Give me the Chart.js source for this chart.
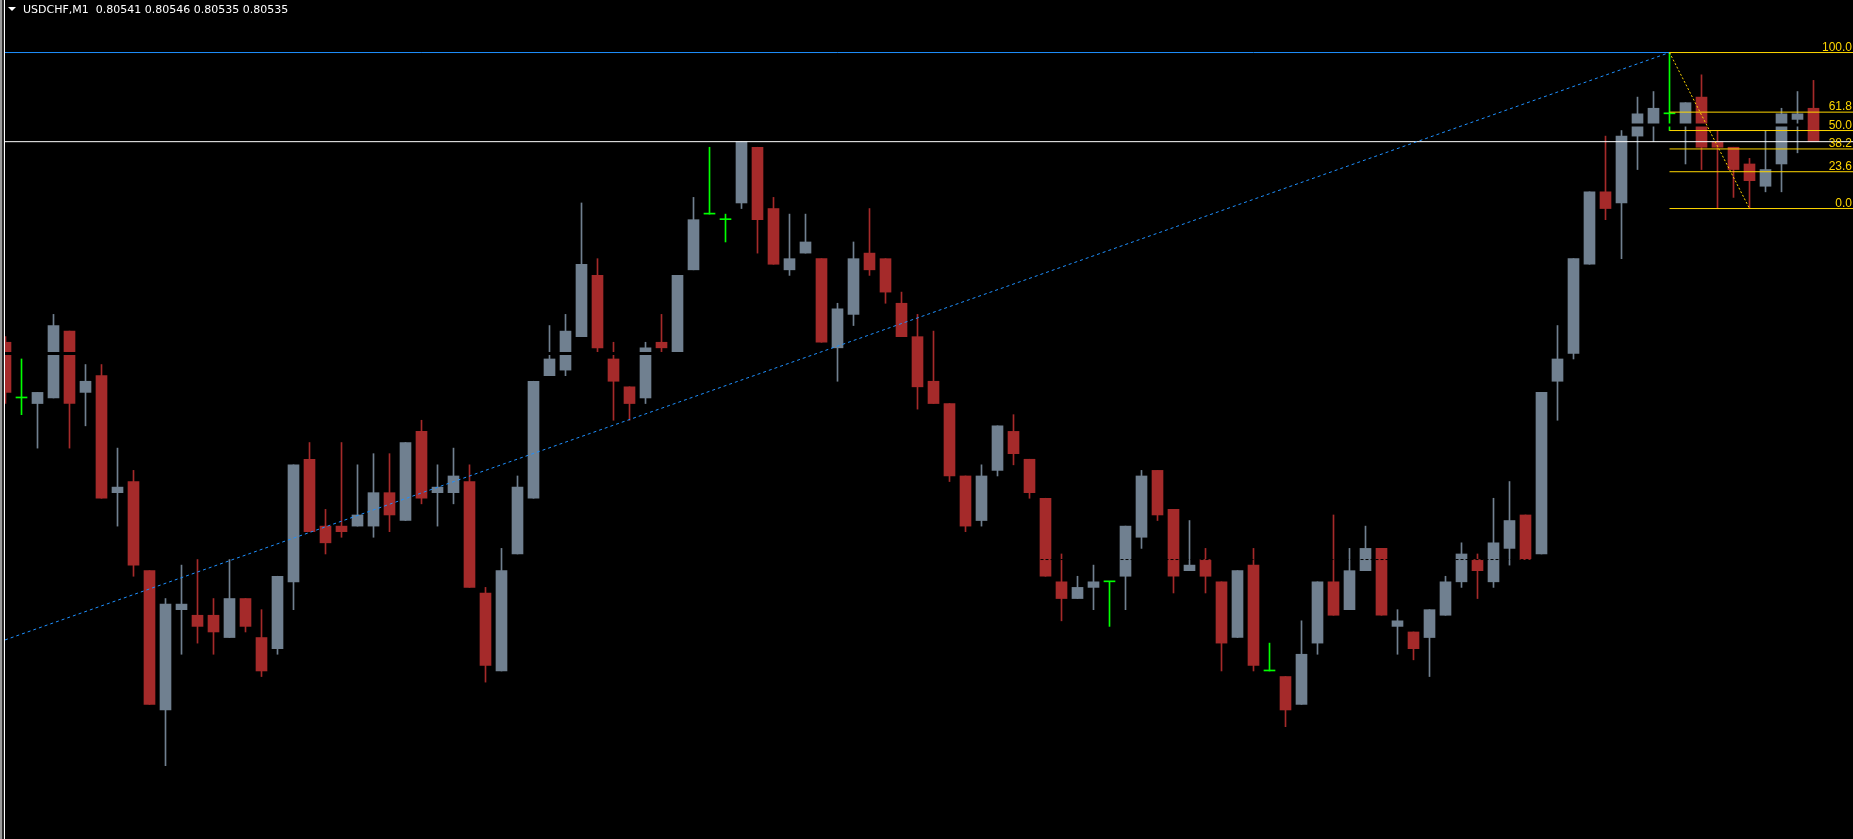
<!DOCTYPE html>
<html>
<head>
<meta charset="utf-8">
<title>USDCHF,M1</title>
<script src="https://cdn.jsdelivr.net/npm/chart.js@4.4.1/dist/chart.umd.min.js"></script>
<style>
  html, body { margin: 0; padding: 0; background: #000; overflow: hidden; }
  #wrap { position: relative; width: 1853px; height: 839px; }
  #priceChart { position: absolute; left: 0; top: 0; }
  #header {
    position: absolute; left: 8px; top: 3px;
    color: #fff; font: 11px "DejaVu Sans", sans-serif; white-space: pre;
  }
  #header .tri {
    display: inline-block; width: 0; height: 0; margin-right: 7px; vertical-align: 2px;
    border-left: 4px solid transparent; border-right: 4px solid transparent; border-top: 4px solid #fff;
  }
</style>
</head>
<body>
<div id="wrap">
  <canvas id="priceChart" width="1853" height="839"></canvas>
  <div id="header"><span class="tri"></span>USDCHF,M1  0.80541 0.80546 0.80535 0.80535</div>
</div>

<script>
/* ================= DATA (USDCHF M1) ================= */

const opens = [
  0.80499,0.80489,0.80488,0.80489,0.80501,0.80490,0.80493,0.80472,0.80474,0.80458,
  0.80433,0.80451,0.80450,0.80450,0.80446,0.80453,0.80446,0.80444,0.80456,0.80478,
  0.80466,0.80466,0.80466,0.80466,0.80472,0.80467,0.80483,0.80472,0.80472,0.80474,
  0.80454,0.80440,0.80461,0.80471,0.80493,0.80494,0.80500,0.80511,0.80496,0.80491,
  0.80489,0.80499,0.80497,0.80512,0.80522,0.80521,0.80524,0.80534,0.80523,0.80512,
  0.80515,0.80514,0.80498,0.80504,0.80515,0.80514,0.80506,0.80500,0.80492,0.80488,
  0.80475,0.80467,0.80476,0.80483,0.80478,0.80471,0.80456,0.80453,0.80455,0.80456,
  0.80457,0.80464,0.80476,0.80469,0.80458,0.80460,0.80456,0.80446,0.80459,0.80440,
  0.80439,0.80434,0.80445,0.80456,0.80451,0.80458,0.80462,0.80448,0.80447,0.80446,
  0.80450,0.80456,0.80460,0.80456,0.80462,0.80468,0.80461,0.80492,0.80497,0.80513,
  0.80526,0.80524,0.80536,0.80538,0.80540,0.80538,0.80543,0.80535,0.80534,0.80531,
  0.80527,0.80531,0.80539,0.80541
];

const highs = [
  0.80500,0.80496,0.80490,0.80504,0.80501,0.80495,0.80495,0.80480,0.80476,0.80458,
  0.80453,0.80459,0.80460,0.80453,0.80460,0.80453,0.80451,0.80457,0.80477,0.80481,
  0.80469,0.80481,0.80477,0.80479,0.80479,0.80481,0.80485,0.80477,0.80480,0.80477,
  0.80455,0.80462,0.80475,0.80492,0.80502,0.80504,0.80524,0.80514,0.80499,0.80491,
  0.80499,0.80504,0.80511,0.80525,0.80534,0.80522,0.80535,0.80534,0.80525,0.80522,
  0.80522,0.80514,0.80506,0.80517,0.80523,0.80514,0.80508,0.80504,0.80501,0.80488,
  0.80475,0.80477,0.80484,0.80486,0.80478,0.80471,0.80461,0.80457,0.80459,0.80456,
  0.80466,0.80476,0.80476,0.80469,0.80467,0.80462,0.80456,0.80458,0.80462,0.80445,
  0.80439,0.80449,0.80456,0.80468,0.80462,0.80466,0.80462,0.80451,0.80447,0.80451,
  0.80457,0.80463,0.80461,0.80471,0.80474,0.80468,0.80490,0.80502,0.80514,0.80526,
  0.80536,0.80537,0.80543,0.80544,0.80551,0.80542,0.80547,0.80537,0.80534,0.80532,
  0.80537,0.80541,0.80544,0.80546
];

const lows = [
  0.80488,0.80486,0.80480,0.80489,0.80480,0.80484,0.80471,0.80466,0.80457,0.80434,
  0.80423,0.80443,0.80445,0.80443,0.80446,0.80447,0.80439,0.80443,0.80451,0.80465,
  0.80461,0.80464,0.80466,0.80464,0.80465,0.80467,0.80470,0.80466,0.80470,0.80455,
  0.80438,0.80440,0.80461,0.80471,0.80493,0.80493,0.80500,0.80497,0.80485,0.80485,
  0.80488,0.80497,0.80497,0.80512,0.80522,0.80517,0.80523,0.80515,0.80513,0.80511,
  0.80515,0.80499,0.80492,0.80502,0.80511,0.80506,0.80500,0.80487,0.80488,0.80474,
  0.80465,0.80466,0.80475,0.80477,0.80471,0.80457,0.80449,0.80453,0.80451,0.80448,
  0.80451,0.80462,0.80467,0.80454,0.80458,0.80454,0.80440,0.80446,0.80440,0.80440,
  0.80430,0.80434,0.80443,0.80450,0.80451,0.80458,0.80450,0.80443,0.80442,0.80439,
  0.80450,0.80455,0.80453,0.80455,0.80459,0.80460,0.80461,0.80485,0.80496,0.80513,
  0.80521,0.80514,0.80530,0.80535,0.80537,0.80531,0.80530,0.80523,0.80525,0.80523,
  0.80526,0.80526,0.80533,0.80535
];

const closes = [
  0.80490,0.80489,0.80490,0.80502,0.80488,0.80492,0.80471,0.80473,0.80459,0.80434,
  0.80452,0.80452,0.80448,0.80447,0.80453,0.80448,0.80440,0.80457,0.80477,0.80465,
  0.80463,0.80465,0.80468,0.80472,0.80468,0.80481,0.80471,0.80473,0.80475,0.80455,
  0.80441,0.80458,0.80473,0.80492,0.80496,0.80501,0.80513,0.80498,0.80492,0.80488,
  0.80498,0.80498,0.80511,0.80521,0.80522,0.80521,0.80535,0.80521,0.80513,0.80514,
  0.80517,0.80499,0.80505,0.80514,0.80512,0.80508,0.80500,0.80491,0.80488,0.80475,
  0.80466,0.80475,0.80484,0.80479,0.80472,0.80457,0.80453,0.80455,0.80456,0.80456,
  0.80466,0.80475,0.80468,0.80457,0.80459,0.80457,0.80445,0.80458,0.80441,0.80440,
  0.80433,0.80443,0.80456,0.80450,0.80458,0.80462,0.80450,0.80449,0.80444,0.80451,
  0.80456,0.80461,0.80458,0.80463,0.80467,0.80460,0.80490,0.80496,0.80514,0.80526,
  0.80523,0.80536,0.80540,0.80541,0.80540,0.80542,0.80534,0.80534,0.80530,0.80528,
  0.80530,0.80540,0.80540,0.80535
];

// current bid (white line)
const bidPrice = 0.80535;

// trendline anchors: [bar index, price]
const trendStart = [0, 0.804456];
const trendEnd = [104, 0.80551];

// fibonacci retracement: from bar 104 high to bar 109 low
const fibFrom = [104, 0.80551];
const fibTo = [109, 0.80523];
const fibLevels = [100, 61.8, 50, 38.2, 23.6, 0];

// horizontal black lines: [price, from bar, to bar, width, dashed]
const blackLines = [
  [0.80497, null, 46, 3, false],
  [0.80538, null, 112.6, 3, false],
  [0.80460, 40, null, 1, true]
];

/* ================= LAYOUT ================= */

const X_MIN = -0.03125;
const X_MAX = X_MIN + 1848 / 16;
const Y_MIN = 0.8040984;
const Y_MAX = 0.8056043;

const BULL = "#708090";
const BEAR = "#A52A2A";
const DOJI = "#00FF00";
const GOLD = "#FFD700";

document.addEventListener("DOMContentLoaded", () => {
  renderPriceChart();
});

function candleColor(i) {
  if (closes[i] > opens[i]) return BULL;
  if (closes[i] < opens[i]) return BEAR;
  return DOJI;
}

function hLine(price, x0, x1, color, width, dash, order) {
  return {
    type: "line",
    data: [{ x: x0, y: price }, { x: x1, y: price }],
    borderColor: color,
    borderWidth: width,
    borderDash: dash || [],
    pointRadius: 0,
    order,
    clip: 0
  };
}

/* ================= CHART ================= */

function renderPriceChart() {
  const ctx = document.getElementById("priceChart");
  if (!ctx) return;

  const colors = opens.map((_, i) => candleColor(i));
  const wicks = opens.map((_, i) => ({ x: i, y: [lows[i], highs[i]] }));
  const bodies = opens.map((_, i) => ({ x: i, y: [opens[i], closes[i]] }));

  // trendline runs as a ray to the left edge
  const slope = (trendEnd[1] - trendStart[1]) / (trendEnd[0] - trendStart[0]);
  const trendLeft = trendStart[1] + (X_MIN - trendStart[0]) * slope;

  const datasets = [
    {
      type: "bar",
      data: wicks,
      backgroundColor: colors,
      barThickness: 1,
      grouped: false,
      order: 10,
      clip: 0
    },
    {
      type: "bar",
      data: bodies,
      backgroundColor: colors,
      barThickness: 11,
      minBarLength: 1,
      grouped: false,
      order: 9,
      clip: 0
    }
  ];

  blackLines.forEach(([p, a, b, w, dashed]) => {
    datasets.push(hLine(p, a === null ? X_MIN : a, b === null ? X_MAX : b,
      "#000000", w, dashed ? [3, 2] : null, 6));
  });

  datasets.push(hLine(bidPrice, X_MIN, X_MAX, "#FFFFFF", 1, null, 5));
  datasets.push(hLine(trendEnd[1], X_MIN, trendEnd[0], "#1E90FF", 1, null, 4));

  datasets.push({
    type: "line",
    data: [{ x: X_MIN, y: trendLeft }, { x: trendEnd[0], y: trendEnd[1] }],
    borderColor: "#1E90FF",
    borderWidth: 1,
    borderDash: [3, 3],
    pointRadius: 0,
    order: 3,
    clip: 0
  });

  fibLevels.forEach(level => {
    const p = fibTo[1] + (fibFrom[1] - fibTo[1]) * level / 100;
    datasets.push(hLine(p, fibFrom[0], X_MAX, GOLD, 1, null, 2));
  });

  datasets.push({
    type: "line",
    data: [{ x: fibFrom[0], y: fibFrom[1] }, { x: fibTo[0], y: fibTo[1] }],
    borderColor: GOLD,
    borderWidth: 1,
    borderDash: [2, 2],
    pointRadius: 0,
    order: 1,
    clip: 0
  });

  new Chart(ctx, {
    type: "bar",
    data: { datasets },
    options: {
      responsive: false,
      animation: false,
      devicePixelRatio: 1,
      layout: { padding: { left: 5, right: 0, top: 0, bottom: 0 } },
      plugins: {
        legend: { display: false },
        tooltip: { enabled: false }
      },
      scales: {
        x: { type: "linear", min: X_MIN, max: X_MAX, offset: false, display: false },
        y: { type: "linear", min: Y_MIN, max: Y_MAX, display: false }
      }
    },
    plugins: [terminalLook]
  });
}

/* ================= BACKGROUND, FRAME, FIB LABELS ================= */

const terminalLook = {
  id: "terminalLook",
  beforeDraw(chart) {
    const c = chart.ctx;
    c.save();
    c.fillStyle = "#000000";
    c.fillRect(0, 0, chart.width, chart.height);
    c.restore();
  },
  afterDraw(chart) {
    const c = chart.ctx;
    const y = chart.scales.y;
    c.save();

    // window frame on the left
    c.fillStyle = "#9a9a9a";
    c.fillRect(0, 0, 2, chart.height);
    c.fillStyle = "#2a2a2a";
    c.fillRect(2, 0, 2, chart.height);
    c.fillStyle = "#ffffff";
    c.fillRect(4, 0, 1, chart.height);

    // fib level captions
    c.font = '12px "Liberation Sans", Arial, sans-serif';
    c.fillStyle = GOLD;
    c.textAlign = "right";
    c.textBaseline = "alphabetic";
    fibLevels.forEach(level => {
      const p = fibTo[1] + (fibFrom[1] - fibTo[1]) * level / 100;
      c.fillText(level.toFixed(1), chart.width - 1, y.getPixelForValue(p) - 2);
    });

    c.restore();
  }
};
</script>
</body>
</html>
